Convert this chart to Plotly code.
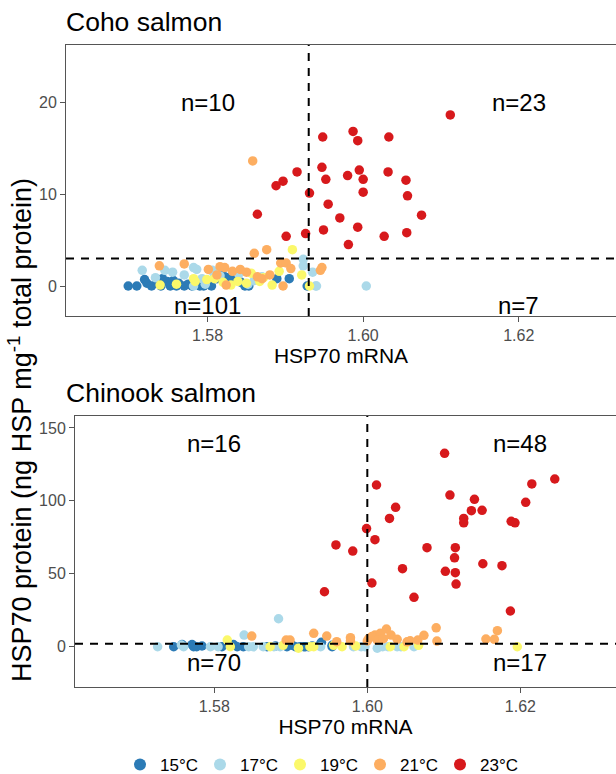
import plotly.graph_objects as go

# ---------------- data ----------------
temps = ["15°C", "17°C", "19°C", "21°C", "23°C"]
colors = ["#2c7bb6", "#abd9e9", "#fbf86a", "#fdae61", "#d7191c"]

# Coho salmon
coho_15_x = [1.5698, 1.5709, 1.5719, 1.5722, 1.5728, 1.5740, 1.5742, 1.5748, 1.5752, 1.5756, 1.5760, 1.5763,
             1.5770, 1.5780, 1.5790, 1.5795, 1.5800, 1.5805, 1.5812, 1.5818, 1.5822, 1.5826, 1.5830, 1.5833,
             1.5838, 1.5843, 1.5848, 1.5853, 1.5889, 1.5905, 1.5928, 1.5775, 1.5785, 1.5735]
coho_15_y = [0, 0, 0.7, 0.3, 0, 0, 0.8, 0.5, 0, 0.6, 0, 0.3, 0, 0, 0, 0, 0.3, 0, 0.8, 1.2, 1.0, 0.9, 1.0, 0.7,
             0.6, 0.4, 0, 0, 0.8, 0.8, 0, 0.2, 0.5, 0.4]
coho_17_x = [1.5716, 1.5745, 1.5755, 1.5770, 1.5782, 1.5786, 1.5793, 1.5806, 1.5808, 1.5840, 1.5843, 1.5860,
             1.5870, 1.5923, 1.5923, 1.5935, 1.5939, 1.5940, 1.5782, 1.5797, 1.6004, 1.5733, 1.5816, 1.5852]
coho_17_y = [1.7, 1.7, 1.5, 1.2, 2.0, 1.8, 0.8, 1.7, 1.4, 1.3, 1.6, 0.6, 1.0, 2.9, 2.2, 1.5, 0, 0.0, 0.0, 0.2, 0,
             0.9, 1.1, 0.2]
coho_19_x = [1.5739, 1.5782, 1.5784, 1.5809, 1.5830, 1.5839, 1.5850, 1.5856, 1.5867, 1.5872, 1.5883, 1.5909,
             1.5921, 1.5931, 1.5760, 1.5820, 1.5892, 1.5799]
coho_19_y = [0.1, 0.8, 0.5, 0.8, 0.1, 0.5, 0.3, 1.4, 0.5, 0.9, 0.1, 3.95, 1.2, 0, 0.2, 0.4, 1.6, 0.7]
coho_21_x = [1.5738, 1.5770, 1.5801, 1.5816, 1.5822, 1.5832, 1.5842, 1.5860, 1.5876, 1.5858, 1.5864, 1.5870,
             1.5894, 1.5901, 1.5897, 1.5947, 1.5945, 1.5824, 1.5850, 1.5880, 1.5812, 1.5907]
coho_21_y = [2.2, 2.4, 1.8, 2.1, 2.0, 1.6, 1.8, 3.55, 3.95, 13.6, 1.0, 0.8, 2.5, 2.5, 0, 2.0, 1.7, 0.1, 1.5, 1.2,
             1.2, 1.9]
coho_23_x = [1.5948, 1.5947, 1.5952, 1.5915, 1.5897, 1.5888, 1.5931, 1.5955, 1.5864, 1.5970, 1.5949, 1.5926,
             1.5901, 1.6112, 1.5987, 1.5993, 1.6033, 1.5995, 1.5980, 1.6000, 1.6032, 1.6055, 1.6000, 1.6057,
             1.6075, 1.5993, 1.6056, 1.6027, 1.5981]
coho_23_y = [16.2, 12.9, 11.6, 12.4, 11.4, 10.9, 10.1, 8.9, 7.8, 7.4, 6.1, 5.7, 5.4, 18.6, 16.8, 15.8, 16.2, 12.6,
             12.0, 11.6, 12.4, 11.5, 10.2, 9.8, 7.7, 6.4, 5.8, 5.4, 4.5]

# Chinook salmon
chin_15_x = [1.5747, 1.5758, 1.5771, 1.5773, 1.5777, 1.5810, 1.5825, 1.5838, 1.5869, 1.5895, 1.5902, 1.5906,
             1.5912, 1.5919, 1.5923, 1.5940, 1.5954, 1.5917, 1.5939, 1.5954, 1.5784, 1.5830, 1.5880, 1.5928]
chin_15_y = [0, 1.5, 1.5, 0, 0, 0, 1.5, 0, 0, 0, 1.0, 0, 0, 0, 0, 3.0, 1.0, 0, 2.0, 0, 0.5, 0, 0.5, 0.5]
chin_17_x = [1.5726, 1.5757, 1.5839, 1.5884, 1.5795, 1.5851, 1.5864, 1.5878, 1.5886, 1.5939, 1.5982, 1.5997,
             1.6013, 1.6027, 1.6039, 1.6044, 1.6061, 1.5760, 1.5805, 1.5845, 1.5992, 1.6020]
chin_17_y = [0, 1.2, 8.0, 19.2, 0, 0, 0, 0, 0, 0, 0, 0, -1, 0, 0, 0, 0, 0, 0, 0, 0, 0]
chin_19_x = [1.5817, 1.5821, 1.5873, 1.5910, 1.5930, 1.5956, 1.5925, 1.5967, 1.6048, 1.6067, 1.6196, 1.5890,
             1.5985, 1.6030]
chin_19_y = [4.6, 0, 0, -1, 0, 1.0, 0, 0, 0, 1.0, 0, 1.0, 0.5, 0]
chin_21_x = [1.5930, 1.5947, 1.5978, 1.5978, 1.6002, 1.6010, 1.6017, 1.6025, 1.6031, 1.6039, 1.6052, 1.6056,
             1.6066, 1.6074, 1.6090, 1.6091, 1.6155, 1.6166, 1.6170, 1.6006, 1.6013, 1.6021, 1.5849, 1.5894,
             1.5899, 1.5960, 1.6000]
chin_21_y = [9.2, 7.3, 6.2, 4.0, 5.7, 8.0, 9.2, 12.1, 8.0, 5.1, 3.4, 4.1, 4.6, 7.8, 13.0, 3.9, 5.3, 5.1, 11.0,
             7.0, 4.5, 5.5, 7.3, 4.6, 4.6, 3.5, 4.0]
chin_23_x = [1.6101, 1.6012, 1.6108, 1.6140, 1.6136, 1.6150, 1.6126, 1.6126, 1.6037, 1.6029, 1.5999, 1.6010,
             1.5959, 1.5981, 1.6078, 1.6115, 1.6114, 1.6102, 1.6115, 1.6116, 1.6151, 1.6176, 1.6046, 1.6006,
             1.6061, 1.5944, 1.6187, 1.6245, 1.6215, 1.6207, 1.6188, 1.6193]
chin_23_y = [132.6, 110.9, 104.0, 101.1, 93.3, 93.5, 88.0, 85.0, 95.6, 88.0, 81.0, 73.4, 69.8, 65.6, 67.9, 67.9,
             61.0, 51.7, 50.8, 43.0, 56.9, 55.6, 53.5, 43.7, 33.9, 37.7, 24.5, 115.0, 111.6, 99.0, 86.0, 85.0]

coho_series = [(coho_15_x, coho_15_y), (coho_17_x, coho_17_y), (coho_19_x, coho_19_y),
               (coho_21_x, coho_21_y), (coho_23_x, coho_23_y)]
chin_series = [(chin_15_x, chin_15_y), (chin_17_x, chin_17_y), (chin_19_x, chin_19_y),
               (chin_21_x, chin_21_y), (chin_23_x, chin_23_y)]

coho_thresh_x, coho_thresh_y = 1.593, 3.0
chin_thresh_x, chin_thresh_y = 1.600, 2.0

coho_counts = {"ul": "n=10", "ur": "n=23", "ll": "n=101", "lr": "n=7"}
chin_counts = {"ul": "n=16", "ur": "n=48", "ll": "n=70", "lr": "n=17"}

x_ticks = [1.58, 1.60, 1.62]
x_ticklabels = ["1.58", "1.60", "1.62"]
coho_yticks = [0, 10, 20]
chin_yticks = [0, 50, 100, 150]

# ---------------- figure ----------------
W, H = 616, 774
FONT = "Liberation Sans, Arial, sans-serif"
fig = go.Figure()

for i, (t, c) in enumerate(zip(temps, colors)):
    x, y = coho_series[i]
    fig.add_trace(go.Scatter(x=x, y=y, mode="markers", name=t, legendgroup=t,
                             marker=dict(color=c, size=9.5, line=dict(width=0)),
                             xaxis="x", yaxis="y"))
for i, (t, c) in enumerate(zip(temps, colors)):
    x, y = chin_series[i]
    fig.add_trace(go.Scatter(x=x, y=y, mode="markers", name=t, legendgroup=t, showlegend=False,
                             marker=dict(color=c, size=9.5, line=dict(width=0)),
                             xaxis="x2", yaxis="y2"))

def px_x(p):
    return p / W

def px_y(p):
    return 1 - p / H

xrange = [1.5618, 1.6325]
axis_common = dict(showgrid=False, zeroline=False, showline=True, linecolor="#555555", linewidth=1,
                   ticks="outside", ticklen=5, tickcolor="#555555", tickwidth=1, automargin=False,
                   tickfont=dict(family=FONT, size=16, color="#4d4d4d"))

xtitle = dict(text="HSP70 mRNA", font=dict(size=21, family=FONT, color="black"), standoff=0)

fig.update_layout(
    width=W, height=H, margin=dict(l=0, r=0, t=0, b=0, autoexpand=False),
    plot_bgcolor="white", paper_bgcolor="white",
    font=dict(family=FONT, color="black"),
    xaxis=dict(domain=[px_x(66), 1.0], range=xrange, anchor="y", mirror=True,
               tickvals=x_ticks, ticktext=x_ticklabels, title=xtitle, **axis_common),
    yaxis=dict(domain=[px_y(316), px_y(45)], range=[-3.26, 26.2], anchor="x",
               tickvals=coho_yticks, **axis_common),
    xaxis2=dict(domain=[px_x(75), 1.0], range=xrange, anchor="y2", mirror=True,
                tickvals=x_ticks, ticktext=x_ticklabels, title=xtitle, **axis_common),
    yaxis2=dict(domain=[px_y(687), px_y(416)], range=[-27.6, 158.2], anchor="x2",
                tickvals=chin_yticks, **axis_common),
    legend=dict(orientation="h", x=px_x(120), xanchor="left", y=px_y(765), yanchor="middle",
                font=dict(family=FONT, size=17, color="black"), itemsizing="constant",
                entrywidth=35, entrywidthmode="pixels",
                bgcolor="rgba(0,0,0,0)", traceorder="normal"),
)

dash_line = dict(color="black", width=2, dash="8px,7px")
for xa, ya, tx, ty in [("x", "y", coho_thresh_x, coho_thresh_y), ("x2", "y2", chin_thresh_x, chin_thresh_y)]:
    fig.add_shape(type="line", xref=xa, yref=f"{ya} domain", x0=tx, x1=tx, y0=0, y1=1, line=dash_line)
    fig.add_shape(type="line", xref=f"{xa} domain", yref=ya, x0=0, x1=1, y0=ty, y1=ty, line=dash_line)

nfont = dict(family=FONT, size=24, color="black")
for xa, ya, counts, ytop, ybot in [("x", "y", coho_counts, 19.9, -2.1), ("x2", "y2", chin_counts, 139.5, -10.7)]:
    for key, xv, yv in [("ul", 1.58, ytop), ("ur", 1.62, ytop), ("ll", 1.58, ybot), ("lr", 1.62, ybot)]:
        fig.add_annotation(x=xv, y=yv, xref=xa, yref=ya, text=counts[key], showarrow=False, font=nfont)

tfont = dict(family=FONT, size=26.5, color="black")
fig.add_annotation(x=px_x(64), y=px_y(22), xref="paper", yref="paper", text="Coho salmon",
                   showarrow=False, xanchor="left", yanchor="middle", font=tfont)
fig.add_annotation(x=px_x(64), y=px_y(393), xref="paper", yref="paper", text="Chinook salmon",
                   showarrow=False, xanchor="left", yanchor="middle", font=tfont)
fig.add_annotation(x=px_x(20), y=px_y(430), xref="paper", yref="paper",
                   text="HSP70 protein (ng HSP mg<sup>-1</sup> total protein)", textangle=-90,
                   showarrow=False, xanchor="center", yanchor="middle",
                   font=dict(family=FONT, size=27, color="black"))

fig.write_html("out.html", post_script="document.body.style.margin='0';",
               config={"displayModeBar": False})
